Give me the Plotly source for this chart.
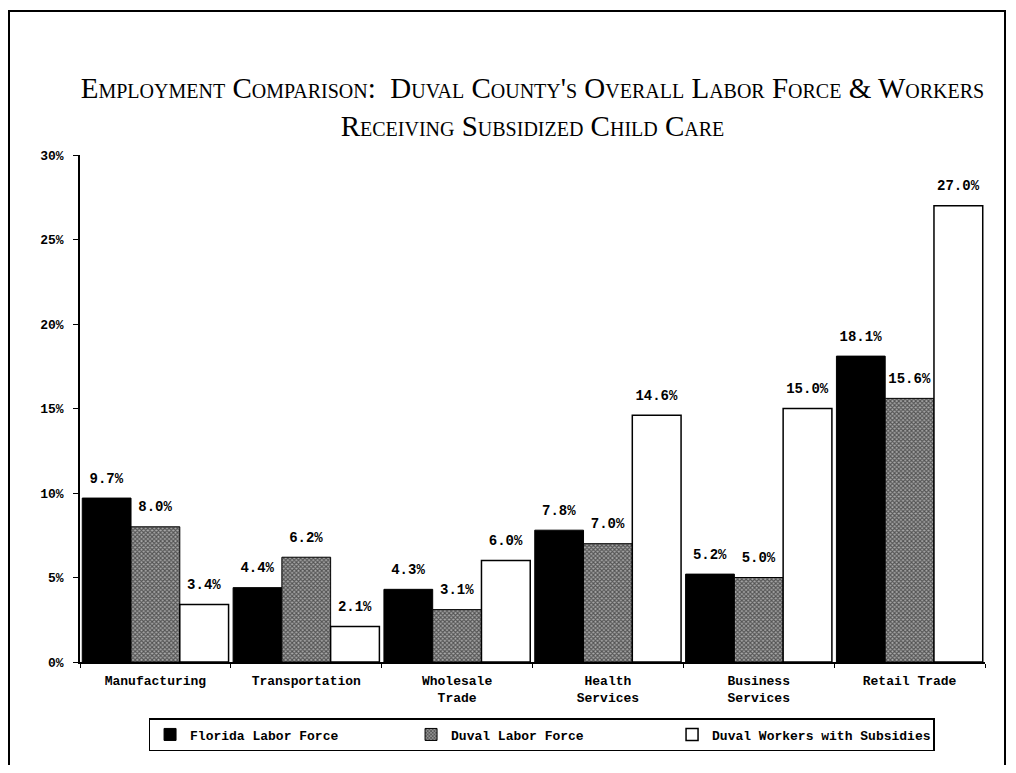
import plotly.graph_objects as go

categories = ["Manufacturing", "Transportation", "Wholesale<br>Trade", "Health<br>Services",
              "Business<br>Services", "Retail Trade"]
florida_labor = [9.7, 4.4, 4.3, 7.8, 5.2, 18.1]
duval_labor = [8.0, 6.2, 3.1, 7.0, 5.0, 15.6]
duval_subsidies = [3.4, 2.1, 6.0, 14.6, 15.0, 27.0]
series_names = ["Florida Labor Force", "Duval Labor Force", "Duval Workers with Subsidies"]
y_ticks = [0, 5, 10, 15, 20, 25, 30]
y_tick_labels = [f"{v}%" for v in y_ticks]

mono = "Liberation Mono, Courier New, monospace"
label_font = dict(family=mono, size=8, color="black", weight="bold")

# figure is 1000x757; the page adds an 8px body margin
W, H = 1000, 757
ML, MT, PW, PH = 72, 147, 905, 507


def bar_text(values):
    return [f"<span style='font-size:14px'>{v:.1f}%</span><br> " for v in values]


fig = go.Figure()
fig.add_trace(go.Bar(
    x=categories, y=florida_labor, name=series_names[0],
    marker=dict(color="black", line=dict(color="black", width=1)),
    text=bar_text(florida_labor), textposition="outside",
    textfont=label_font, cliponaxis=False,
))
fig.add_trace(go.Bar(
    x=categories, y=duval_labor, name=series_names[1],
    marker=dict(color="#777777", line=dict(color="black", width=1),
                pattern=dict(shape="x", fgcolor="black", bgcolor="#a8a8a8", size=3, solidity=0.6)),
    text=bar_text(duval_labor), textposition="outside",
    textfont=label_font, cliponaxis=False,
))
fig.add_trace(go.Bar(
    x=categories, y=duval_subsidies, name=series_names[2],
    marker=dict(color="white", line=dict(color="black", width=1.5)),
    text=bar_text(duval_subsidies), textposition="outside",
    textfont=label_font, cliponaxis=False,
))

fig.update_layout(
    width=W, height=H,
    paper_bgcolor="white", plot_bgcolor="white",
    margin=dict(l=ML, r=W - ML - PW, t=MT, b=H - MT - PH, autoexpand=False),
    barmode="group", bargap=0.03, bargroupgap=0,
    uniformtext=dict(mode=False),
    title=dict(
        text="Employment Comparison:  Duval County's Overall Labor Force &amp; Workers<br>Receiving Subsidized Child Care",
        x=0.5, xanchor="center", xref="paper", y=1 - 90 / H, yanchor="middle",
        font=dict(family="Liberation Serif, Times New Roman, serif", size=29, color="black",
                  variant="small-caps"),
    ),
    xaxis=dict(
        showline=True, linecolor="black", linewidth=1.5,
        ticks="outside", tickson="boundaries", ticklen=4, tickcolor="black",
        tickfont=dict(family=mono, size=13, color="black", weight="bold"),
        ticklabelstandoff=6,
        showgrid=False,
    ),
    yaxis=dict(
        range=[0, 30], tickvals=y_ticks, ticktext=y_tick_labels,
        showline=True, linecolor="black", linewidth=1.5,
        ticks="outside", ticklen=5, tickcolor="black",
        tickfont=dict(family=mono, size=13, color="black", weight="bold"),
        ticklabelstandoff=7,
        showgrid=False, zeroline=False,
    ),
    legend=dict(
        orientation="h", x=0.51, xanchor="center", y=-(710 - 654) / PH, yanchor="top",
        bordercolor="black", borderwidth=1.5, bgcolor="white",
        font=dict(family=mono, size=13, color="black", weight="bold"),
        entrywidth=216, entrywidthmode="pixels",
        traceorder="normal",
    ),
    showlegend=True,
)

fig.add_shape(type="rect", xref="paper", yref="paper",
              x0=(1 - ML) / PW, x1=(997 - ML) / PW, y0=(654 - 790) / PH, y1=(654 - 3) / PH,
              line=dict(color="black", width=2), fillcolor="rgba(0,0,0,0)", layer="below")

fig.write_html("out.html")
